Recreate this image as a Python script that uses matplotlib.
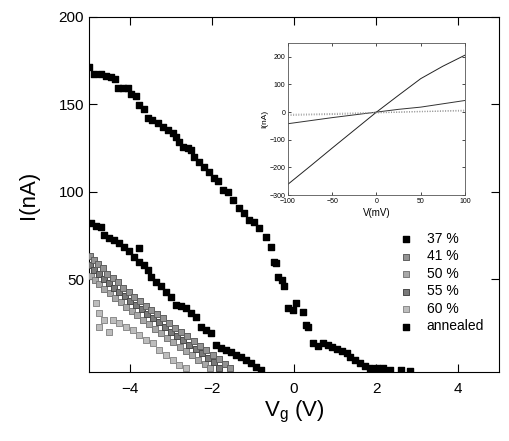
import numpy as np
import matplotlib
matplotlib.use('Agg')
import matplotlib.pyplot as plt

plt.rcParams['font.family'] = ['Liberation Sans', 'DejaVu Sans']

# 主图数据: 栅压 Vg (V) 与电流 I (nA)
vg_ann = [-5.0, -4.88, -4.71, -4.59, -4.46, -4.37, -4.29, -4.17, -4.05, -3.98, -3.85,
          -3.78, -3.66, -3.56, -3.46, -3.32, -3.2, -3.07, -2.95, -2.88, -2.8, -2.71,
          -2.59, -2.51, -2.44, -2.32, -2.2, -2.07, -1.95, -1.85, -1.73, -1.61, -1.49,
          -1.34, -1.22, -1.1, -0.98, -0.85, -0.68, -0.56, -0.49, -0.44, -0.39, -0.3,
          -0.24, -0.15, -0.02, 0.05, 0.22, 0.29, 0.34, 0.46, 0.59, 0.7, 0.83, 0.93,
          1.05, 1.17, 1.29, 1.37, 1.49, 1.61, 1.73, 1.85, 2.02, 2.17, 2.34, 2.6, 2.83]
i_ann = [171.4, 167.4, 167.4, 166.3, 165.7, 164.5, 159.4, 159.4, 159.4, 156.1, 155.0,
         149.7, 147.4, 142.2, 141.0, 139.4, 137.1, 135.4, 133.7, 131.4, 128.5, 125.7,
         125.1, 123.9, 119.9, 117.1, 114.2, 111.4, 107.9, 106.2, 101.1, 99.9, 95.3,
         90.8, 87.9, 83.9, 82.8, 79.3, 74.2, 68.5, 59.9, 59.3, 51.3, 49.6,
         46.2, 33.6, 32.5, 36.5, 31.3, 23.9, 23.0, 13.6, 11.9, 13.6, 12.4, 11.3,
         10.2, 9.0, 7.9, 5.6, 3.9, 2.1, 0.4, -0.7, -0.7, -0.7, -1.9, -1.9, -2.4]

vg_37 = [-4.95, -4.83, -4.71, -4.63, -4.51, -4.39, -4.27, -4.15, -4.02, -3.9, -3.78,
         -3.78, -3.66, -3.56, -3.49, -3.37, -3.24, -3.12, -3.0, -2.88, -2.76, -2.63,
         -2.51, -2.39, -2.27, -2.15, -2.02, -1.9, -1.78, -1.66, -1.54, -1.41, -1.29,
         -1.17, -1.05, -0.93, -0.8]
i_37 = [82.2, 80.5, 79.9, 75.3, 73.6, 72.5, 70.8, 68.5, 66.2, 62.8, 67.9,
        59.9, 58.2, 55.3, 51.3, 48.5, 46.2, 42.7, 39.9, 35.3, 34.7, 33.6,
        30.7, 28.4, 22.7, 21.0, 19.3, 12.4, 10.7, 9.6, 8.4, 6.7, 5.6,
        3.9, 2.1, -0.1, -1.9]

vg_41 = [-4.97, -4.88, -4.78, -4.66, -4.55, -4.42, -4.3, -4.17, -4.03, -3.9, -3.76,
         -3.62, -3.48, -3.33, -3.19, -3.05, -2.9, -2.75, -2.6, -2.45, -2.3, -2.14,
         -1.98, -1.83, -1.68, -1.55]
i_41 = [63.5, 61.0, 58.5, 56.2, 53.0, 50.6, 48.4, 45.2, 43.0, 40.1, 37.8,
        35.0, 32.6, 29.9, 27.8, 25.2, 22.3, 19.9, 17.4, 14.7, 12.1, 9.4,
        6.8, 4.3, 1.7, -0.8]

vg_50 = [-4.96, -4.86, -4.75, -4.63, -4.5, -4.37, -4.23, -4.1, -3.96, -3.82, -3.68,
         -3.53, -3.38, -3.24, -3.09, -2.94, -2.79, -2.64, -2.49, -2.33, -2.18, -2.05]
i_50 = [52.0, 49.5, 47.2, 44.3, 42.0, 39.2, 37.1, 34.0, 31.8, 29.5, 26.6,
        24.3, 21.5, 19.2, 16.4, 14.0, 11.5, 9.0, 6.6, 4.0, 1.6, -0.9]

vg_55 = [-4.97, -4.87, -4.76, -4.64, -4.52, -4.39, -4.26, -4.13, -4.0, -3.86, -3.72,
         -3.58, -3.43, -3.29, -3.14, -3.0, -2.85, -2.7, -2.55, -2.4, -2.25, -2.1,
         -1.95, -1.82]
i_55 = [58.0, 55.6, 53.1, 50.4, 48.0, 45.3, 42.8, 40.4, 37.6, 35.2, 32.9,
        30.1, 27.7, 25.4, 22.6, 20.1, 17.8, 15.1, 12.6, 10.3, 7.6, 5.2,
        2.6, -0.5]

vg_60 = [-4.83, -4.76, -4.63, -4.76, -4.51, -4.41, -4.27, -4.1, -3.93, -3.78, -3.61,
         -3.44, -3.29, -3.12, -2.95, -2.8, -2.63]
i_60 = [36.5, 30.7, 26.7, 22.7, 19.9, 26.7, 25.0, 22.7, 21.0, 18.2, 15.3,
        13.6, 9.6, 6.7, 3.9, 1.0, -0.7]

# 插图数据: I-V 曲线
v_mv = [-100, -75, -50, -25, 0, 25, 50, 75, 100]
iv_a = [-261, -196, -130, -65, 0, 61, 121, 166, 206]
iv_b = [-42, -31, -20, -10, 0, 10, 18, 30, 42]
iv_c = [-12, -10, -9, -6, -3, -1, 1, 3, 4]
iv_d = [-8, -7, -5, -3, -1, 1, 3, 5, 7]

fig = plt.figure(figsize=(5.09, 4.41), dpi=100)
ax = fig.add_axes([0.1749, 0.1565, 0.8055, 0.805])

ax.scatter(vg_60, i_60, s=15, marker='s', facecolor='#bdbdbd', edgecolor='#8c8c8c', linewidths=0.7, label='60 %', zorder=2)
ax.scatter(vg_50, i_50, s=15, marker='s', facecolor='#a8a8a8', edgecolor='#7a7a7a', linewidths=0.7, label='50 %', zorder=3)
ax.scatter(vg_55, i_55, s=15, marker='s', facecolor='#7a7a7a', edgecolor='#4a4a4a', linewidths=0.7, label='55 %', zorder=4)
ax.scatter(vg_41, i_41, s=15, marker='s', facecolor='#939393', edgecolor='#606060', linewidths=0.7, label='41 %', zorder=5)
ax.scatter(vg_37, i_37, s=20, marker='s', color='black', label='37 %', zorder=6)
ax.scatter(vg_ann, i_ann, s=20, marker='s', color='black', label='annealed', zorder=6)

ax.set_xlim(-5, 5)
ax.set_ylim(-3, 200)
ax.set_xticks([-4, -2, 0, 2, 4])
ax.set_yticks([50, 100, 150, 200])
ax.tick_params(direction='in', length=6, width=0.8, labelsize=11, top=True, right=True)
ax.tick_params(axis='x', pad=7)
for sp in ax.spines.values():
    sp.set_linewidth(0.8)
ax.set_xlabel('V$_{\\mathregular{g}}$ (V)', fontsize=16, labelpad=2)
ax.set_ylabel('I(nA)', fontsize=16, labelpad=14)

# 图例顺序
h, l = ax.get_legend_handles_labels()
order = ['37 %', '41 %', '50 %', '55 %', '60 %', 'annealed']
hd = dict(zip(l, h))
ax.legend([hd[k] for k in order], order, loc='upper left', bbox_to_anchor=(0.725, 0.43),
          frameon=False, fontsize=10, labelspacing=0.25, handletextpad=1.0,
          markerscale=1.0, handlelength=1.0)

# 插图
ins = fig.add_axes([0.5658, 0.5578, 0.3477, 0.3447])
ins.plot(v_mv, iv_a, color='#222222', lw=0.7)
ins.plot(v_mv, iv_b, color='#333333', lw=0.7)
ins.plot(v_mv, iv_c, color='#888888', lw=0.7, ls=':')
ins.plot(v_mv, iv_d, color='#999999', lw=0.7, ls=':')
ins.set_xlim(-100, 100)
ins.set_ylim(-300, 250)
ins.set_xticks([-100, -50, 0, 50, 100])
ins.set_yticks([-300, -200, -100, 0, 100, 200])
ins.tick_params(direction='in', length=2.5, width=0.5, labelsize=5, pad=2, top=True, right=True)
for sp in ins.spines.values():
    sp.set_linewidth(0.6)
    sp.set_color('#555555')
ins.set_xlabel('V(mV)', fontsize=7, labelpad=2)
ins.set_ylabel('I(nA)', fontsize=6, labelpad=1)

plt.savefig('out.png', dpi=100)
